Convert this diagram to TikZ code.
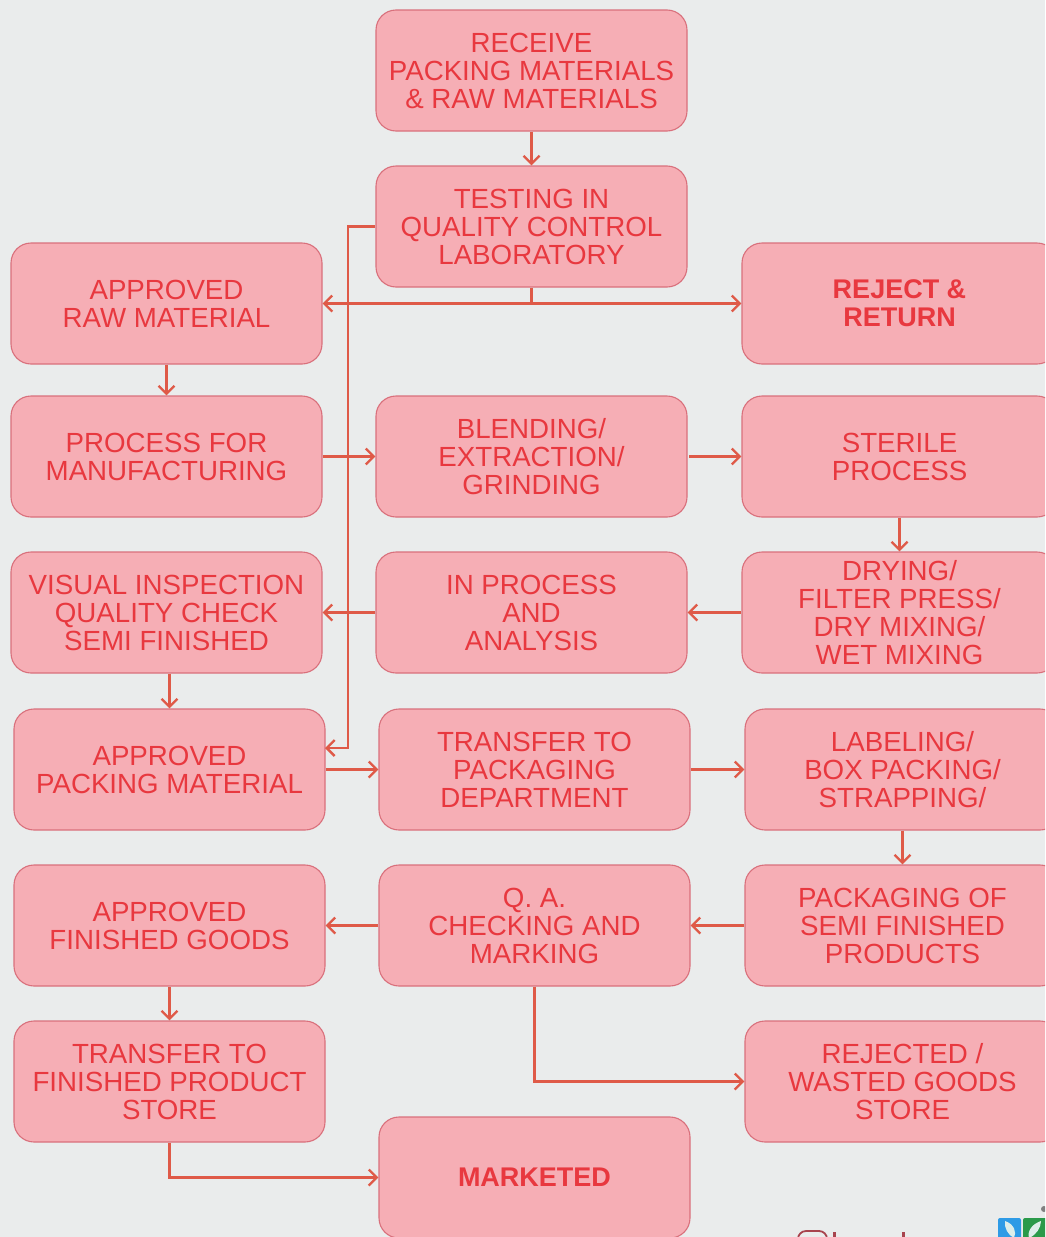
\documentclass[tikz,border=0pt]{standalone}
\usepackage{fontspec}
\setmainfont{Liberation Sans}
\usetikzlibrary{arrows.meta}
\definecolor{pagebg}{HTML}{EAECEC}
\definecolor{boxfill}{HTML}{F6AEB5}
\definecolor{boxline}{HTML}{D9707C}
\definecolor{boxtext}{HTML}{E8383F}
\definecolor{wire}{HTML}{DF5A48}
\definecolor{logoline}{HTML}{A8444E}
\definecolor{logoblue}{HTML}{2E9BE6}
\definecolor{logogreen}{HTML}{2A9A4A}
\definecolor{logoleaf}{HTML}{DDEEEA}
\tikzset{
  flowbox/.style={draw=boxline,fill=boxfill,line width=1.1pt,rounded corners=20pt,
    minimum width=311pt,minimum height=121pt,inner sep=0pt,align=center,
    text=boxtext,font=\fontsize{27.7}{28}\selectfont},
  boldbox/.style={flowbox,font=\fontsize{27}{28}\selectfont\bfseries},
  wideside/.style={minimum width=315pt},
  wireline/.style={draw=wire,line width=2.4pt,-{Straight Barb[length=8pt,width=16pt,line width=2.4pt]}},
  plainwire/.style={draw=wire,line width=2.4pt}
}
\begin{document}
\begin{tikzpicture}[x=1pt,y=-1pt]
\useasboundingbox (0,0) rectangle (1045,1237);
\clip (0,0) rectangle (1045,1237);
\fill[pagebg] (0,0) rectangle (1045,1237);
% boxes
\node[flowbox] (receive) at (531.5,70.5) {RECEIVE\\PACKING MATERIALS\\\&\ RAW MATERIALS};
\node[flowbox] (testing) at (531.5,226.5) {TESTING IN\\QUALITY CONTROL\\LABORATORY};
\node[flowbox] (raw) at (166.5,303.5) {APPROVED\\RAW MATERIAL};
\node[boldbox,wideside] (reject) at (899.5,303.5) {REJECT \&\\RETURN};
\node[flowbox] (process) at (166.5,456.5) {PROCESS FOR\\MANUFACTURING};
\node[flowbox] (blending) at (531.5,456.5) {BLENDING/\\EXTRACTION/\\GRINDING};
\node[flowbox,wideside] (sterile) at (899.5,456.5) {STERILE\\PROCESS};
\node[flowbox] (visual) at (166.5,612.5) {VISUAL INSPECTION\\QUALITY CHECK\\SEMI FINISHED};
\node[flowbox] (inproc) at (531.5,612.5) {IN PROCESS\\AND\\ANALYSIS};
\node[flowbox,wideside] (drying) at (899.5,612.5) {DRYING/\\FILTER PRESS/\\DRY MIXING/\\WET MIXING};
\node[flowbox] (packmat) at (169.5,769.5) {APPROVED\\PACKING MATERIAL};
\node[flowbox] (transfer) at (534.5,769.5) {TRANSFER TO\\PACKAGING\\DEPARTMENT};
\node[flowbox,wideside] (label) at (902.5,769.5) {LABELING/\\BOX PACKING/\\STRAPPING/};
\node[flowbox] (goods) at (169.5,925.5) {APPROVED\\FINISHED GOODS};
\node[flowbox] (qa) at (534.5,925.5) {Q. A.\\CHECKING AND\\MARKING};
\node[flowbox,wideside] (semi) at (902.5,925.5) {PACKAGING OF\\SEMI FINISHED\\PRODUCTS};
\node[flowbox] (store) at (169.5,1081.5) {TRANSFER TO\\FINISHED PRODUCT\\STORE};
\node[flowbox,wideside] (waste) at (902.5,1081.5) {REJECTED /\\WASTED GOODS\\STORE};
\node[boldbox] (market) at (534.5,1177.5) {MARKETED};
% helper points
\coordinate (split) at (testing.south |- raw.east);
\coordinate (busTop) at (348,226.5);
\coordinate (busEnd) at (348,748);
\coordinate (packIn) at (325,748);
\coordinate (qaCorner) at (qa.south |- waste.west);
\coordinate (storeCorner) at (store.south |- market.west);
\coordinate (blendOut) at (689,456.5);
% connectors
\draw[wireline] (receive.south) -- (testing.north);
\draw[plainwire] (testing.south) -- (split);
\draw[wireline] (split) -- (raw.east);
\draw[wireline] (split) -- (reject.west);
\draw[wireline] (testing.west) -- (busTop) -- (busEnd) -- (packIn);
\draw[wireline] (raw.south) -- (process.north);
\draw[wireline] (process.east) -- (blending.west);
\draw[wireline] (blendOut) -- (sterile.west);
\draw[wireline] (sterile.south) -- (drying.north);
\draw[wireline] (drying.west) -- (inproc.east);
\draw[wireline] (inproc.west) -- (visual.east);
\draw[wireline] (visual.south -| packmat.north) -- (packmat.north);
\draw[wireline] (packmat.east) -- (transfer.west);
\draw[wireline] (transfer.east) -- (label.west);
\draw[wireline] (label.south) -- (semi.north);
\draw[wireline] (semi.west) -- (qa.east);
\draw[wireline] (qa.west) -- (goods.east);
\draw[wireline] (goods.south) -- (store.north);
\draw[wireline] (qa.south) -- (qaCorner) -- (waste.west);
\draw[wireline] (store.south) -- (storeCorner) -- (market.west);
% corner logo, cut by the page edge
\draw[draw=logoline,line width=1.8pt,rounded corners=8pt] (798,1245) -- (798,1231) -- (827,1231) -- (827,1245);
\foreach \px in {833,902}{\fill[logoline] (\px,1232) rectangle +(2.5,8);}
\fill[logoblue,rounded corners=2pt] (998,1218) rectangle (1021,1242);
\fill[logogreen,rounded corners=2pt] (1023,1218) rectangle (1048,1242);
\fill[logoleaf] (1005,1221) .. controls (1014,1224) and (1017,1232) .. (1014,1238) .. controls (1008,1235) and (1004,1228) .. (1005,1221);
\fill[logoleaf] (1041,1221) .. controls (1032,1224) and (1027,1231) .. (1029,1238) .. controls (1036,1235) and (1041,1228) .. (1041,1221);
\fill[gray] (1044,1209) circle (3);
\end{tikzpicture}
\end{document}
